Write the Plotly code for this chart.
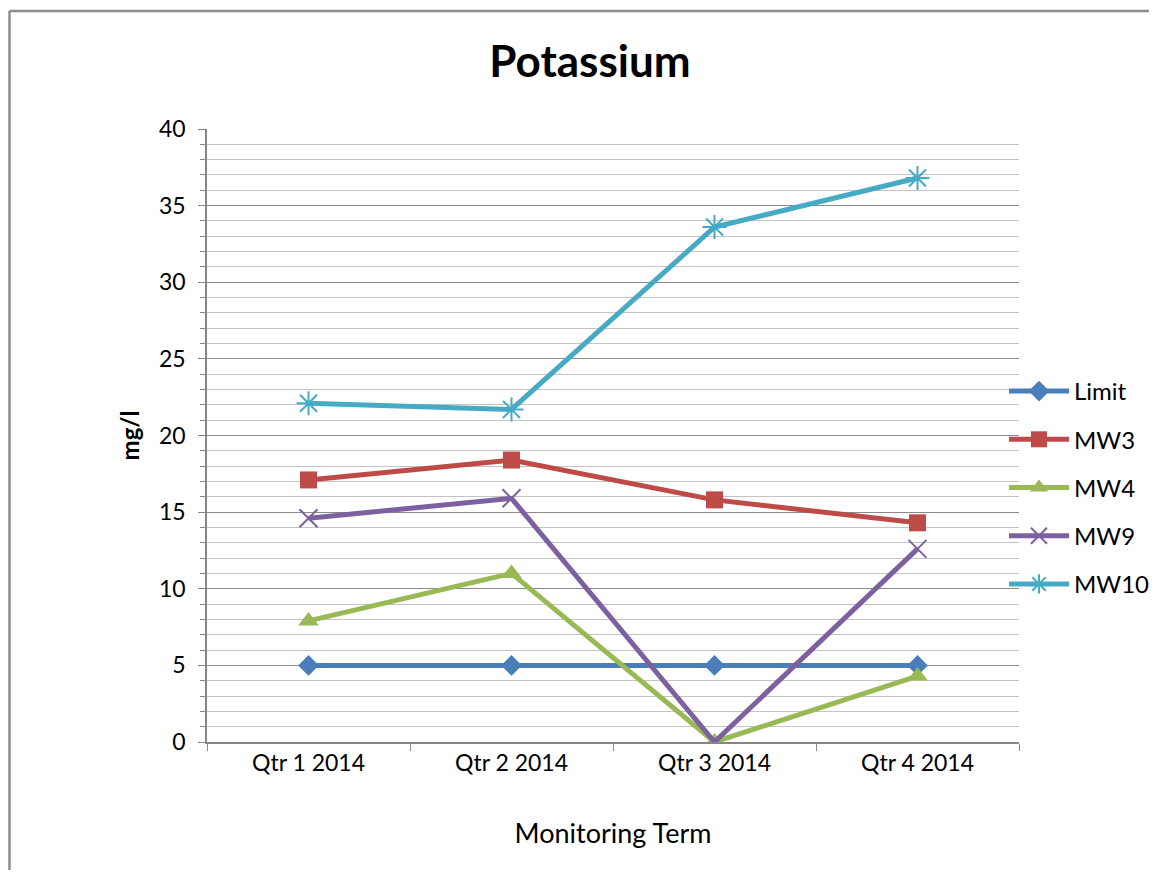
import plotly.graph_objects as go

terms = ["Qtr 1 2014", "Qtr 2 2014", "Qtr 3 2014", "Qtr 4 2014"]
limit = [5, 5, 5, 5]
mw3 = [17.1, 18.4, 15.8, 14.3]
mw4 = [7.9, 11.0, 0.0, 4.3]
mw9 = [14.6, 15.9, 0.0, 12.6]
mw10 = [22.1, 21.7, 33.6, 36.8]

series = [
    ("Limit", limit, "#4A7EBB", "diamond", 16, 0),
    ("MW3", mw3, "#BE4B48", "square", 17, 0),
    ("MW4", mw4, "#98B954", "triangle-up", 18, 0),
    ("MW9", mw9, "#7D60A0", "x-thin-open", 18, 2),
    ("MW10", mw10, "#46AAC5", "asterisk-open", 20, 2),
]

FONT = "Lato"
OFF = 8  # page body margin of the browser
W, H = 1157 - 2 * OFF, 878 - 2 * OFF
# plot area in reference (page) pixels
L, R, T, B = 207, 1019, 129, 742

fig = go.Figure()
for name, vals, col, sym, size, lw in series:
    fig.add_trace(go.Scatter(
        x=terms, y=vals, name=name, mode="lines+markers", legendgroup=name,
        line=dict(color=col, width=5),
        marker=dict(symbol=sym, size=size, color=col, line=dict(color=col, width=lw)),
    ))

# page pixel -> paper coords
px = lambda v: (v - L) / (R - L)
py = lambda v: (B - v) / (B - T)

# outer chart border (only left and top fall inside the picture)
border = dict(type="line", xref="paper", yref="paper", line=dict(color="#8C8C8C", width=2.5))
fig.add_shape(**border, x0=px(9.5), y0=py(11), x1=px(1200), y1=py(11))
fig.add_shape(**border, x0=px(9.5), y0=py(11), x1=px(9.5), y1=py(920))

fig.update_layout(
    width=W, height=H,
    margin=dict(l=L - OFF, r=W + OFF - R, t=T - OFF, b=H + OFF - B, autoexpand=False),
    paper_bgcolor="white", plot_bgcolor="white",
    font=dict(family=FONT, size=23, color="black"),
    title=dict(text="<b>Potassium</b>", x=px(590), xanchor="center", xref="paper",
               y=1 - (62 - OFF) / H, yanchor="middle", font=dict(size=44)),
    showlegend=True,
    legend=dict(x=px(1004), xanchor="left", y=py(369), yanchor="top",
                font=dict(size=24), tracegroupgap=14, itemwidth=60,
                bgcolor="rgba(0,0,0,0)"),
    xaxis=dict(
        type="category", range=[-0.5, 3.5], tickson="boundaries",
        ticks="outside", ticklen=7, tickcolor="#868686",
        showline=True, linecolor="#868686", linewidth=1.5, showgrid=False,
        title=dict(text="Monitoring Term", font=dict(size=27), standoff=49),
    ),
    yaxis=dict(
        range=[0, 40], dtick=5, tick0=0,
        ticks="outside", ticklen=7, tickcolor="#868686",
        showline=True, linecolor="#868686", linewidth=1.5,
        gridcolor="#8A8A8A", gridwidth=1.2, zeroline=False,
        minor=dict(dtick=1, showgrid=True, gridcolor="#C4C4C4", gridwidth=1.2,
                   ticks="outside", ticklen=5, tickcolor="#868686"),
        title=dict(text="<b>mg/l</b>", font=dict(size=24), standoff=13),
        ticklabelstandoff=8,
    ),
)

fig.write_html("out.html")
